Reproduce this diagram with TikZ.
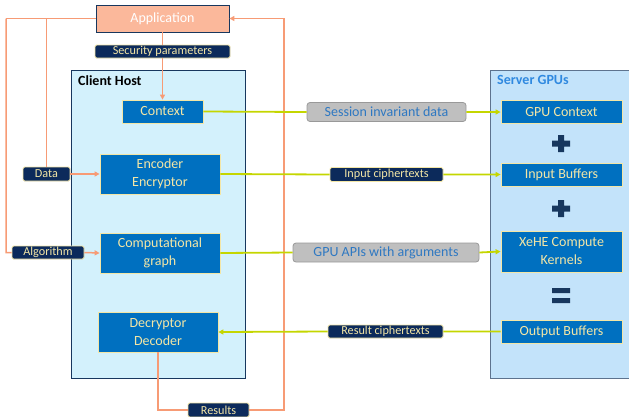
\documentclass[tikz,border=0pt]{standalone}
\usepackage{fontspec}
\setmainfont{Carlito}
\usetikzlibrary{arrows.meta, positioning}
\definecolor{appfill}{HTML}{FBB89B}
\definecolor{wire}{HTML}{F79B75}
\definecolor{navy}{HTML}{0C2A5B}
\definecolor{pale}{HTML}{F3E6A6}
\definecolor{unitblue}{HTML}{0070C0}
\definecolor{clientbg}{HTML}{D3F1FC}
\definecolor{serverbg}{HTML}{C3E3FA}
\definecolor{link}{HTML}{C4D600}
\definecolor{graylab}{HTML}{BFBFBF}
\definecolor{graytxt}{HTML}{2E78C2}
\definecolor{gpublue}{HTML}{2F89E0}
\definecolor{opnavy}{HTML}{17375E}

\begin{document}
\begin{tikzpicture}[x=1pt, y=-1pt,
    unit/.style={draw=pale, fill=unitblue, text=pale, line width=0.8pt, inner sep=0pt, align=center, font=\fontsize{14}{18}\selectfont},
    tag/.style={draw=pale, fill=navy, text=pale, rounded corners=1.5pt, line width=0.8pt, inner sep=0pt, font=\fontsize{12.2}{14}\selectfont},
    graytag/.style={draw=gray!80, fill=graylab, text=graytxt, rounded corners=3pt, line width=0.8pt, inner sep=0pt, font=\fontsize{14}{16}\selectfont},
    host/.style={draw=opnavy, line width=0.8pt, inner sep=0pt},
    wireto/.style={draw=wire, line width=1.5pt, -{Triangle[length=5pt,width=5pt]}},
    wireplain/.style={draw=wire, line width=1.5pt},
    linkto/.style={draw=link, line width=1.8pt, -{Triangle[length=5pt,width=5pt]}}]

    \useasboundingbox (0,0) rectangle (629,416);

    % Hosts
    \node[host, fill=clientbg, minimum width=174, minimum height=308] (client) at (158,224) {};
    \node[host, draw=opnavy!70, fill=serverbg, minimum width=142, minimum height=308] (server) at (561,224) {};
    \node[anchor=north west, inner sep=0pt, font=\fontsize{14}{16}\selectfont\bfseries] (clientlbl) at (78,75) {Client Host};
    \node[anchor=north west, inner sep=0pt, text=gpublue, font=\fontsize{14}{16}\selectfont\bfseries] (serverlbl) at (497,75) {Server GPUs};

    % Application and its tags
    \node[draw=opnavy, fill=appfill, text=white, line width=0.8pt, minimum width=133, minimum height=27, font=\fontsize{14}{16}\selectfont] (app) at (162.5,18.5) {Application};
    \node[tag, minimum width=135, minimum height=13] (secparam) at (162.5,51.5) {Security parameters};
    \node[tag, minimum width=47, minimum height=14] (data) at (46.5,174) {Data};
    \node[tag, minimum width=72, minimum height=13] (algo) at (48,252.5) {Algorithm};
    \node[tag, minimum width=61, minimum height=14] (results) at (218.5,410) {Results};

    % Client units
    \node[unit, minimum width=81, minimum height=23] (ctx) at (162.5,111.5) {Context};
    \node[unit, minimum width=120, minimum height=40] (encoder) at (160,174) {Encoder\\Encryptor};
    \node[unit, minimum width=120, minimum height=40] (graph) at (160,253) {Computational\\graph};
    \node[unit, minimum width=120, minimum height=40] (decoder) at (158,332) {Decryptor\\Decoder};

    % Server units
    \node[unit, minimum width=121, minimum height=23] (gpuctx) at (561.5,112) {GPU Context};
    \node[unit, minimum width=121, minimum height=23] (inbuf) at (561.5,174.5) {Input Buffers};
    \node[unit, minimum width=121, minimum height=41] (kernels) at (561.5,251.5) {XeHE Compute\\Kernels};
    \node[unit, minimum width=121, minimum height=23] (outbuf) at (561.5,331.5) {Output Buffers};

    % Link tags
    \node[graytag, minimum width=159, minimum height=19] (session) at (386.5,112) {Session invariant data};
    \node[tag, minimum width=113, minimum height=14] (inct) at (386.5,174.5) {Input ciphertexts};
    \node[graytag, minimum width=186, minimum height=19] (apis) at (386,252.5) {GPU APIs with arguments};
    \node[tag, minimum width=115, minimum height=13] (outct) at (385.5,331.5) {Result ciphertexts};

    % Operators
    \fill[opnavy] (552,140.5) rectangle (570,146.5) (558,135) rectangle (564,152);
    \fill[opnavy] (552,205.5) rectangle (570,211.5) (558,200) rectangle (564,217);
    \fill[opnavy] (552,288) rectangle (570,293) (552,298) rectangle (570,303);

    % Orange wires
    \coordinate (leftbus) at (6,18.5);
    \coordinate (rightbus) at (284,18.5);
    \draw[wireplain] (app.west) -- (leftbus);
    \draw[wireto] (leftbus) |- (algo.west) (algo.east) -- (graph.west);
    \draw[wireto] (data.north) |- (app.west) (data.east) -- (encoder.west);
    \draw[wireplain] (app.south) -- (secparam.north);
    \draw[wireto] (secparam.south) -- (ctx.north);
    \draw[wireplain] (decoder.south) |- (results.west);
    \draw[wireto] (results.east) -| (rightbus) -- (app.east);

    % Green links
    \draw[linkto] (ctx.east) -- (session.west) (session.east) -- (gpuctx.west);
    \draw[linkto] (encoder.east) -- (inct.west) (inct.east) -- (inbuf.west);
    \draw[linkto] (graph.east) -- (apis.west) (apis.east) -- (kernels.west);
    \draw[linkto] (outbuf.west) -- (outct.east) (outct.west) -- (decoder.east);
\end{tikzpicture}
\end{document}
